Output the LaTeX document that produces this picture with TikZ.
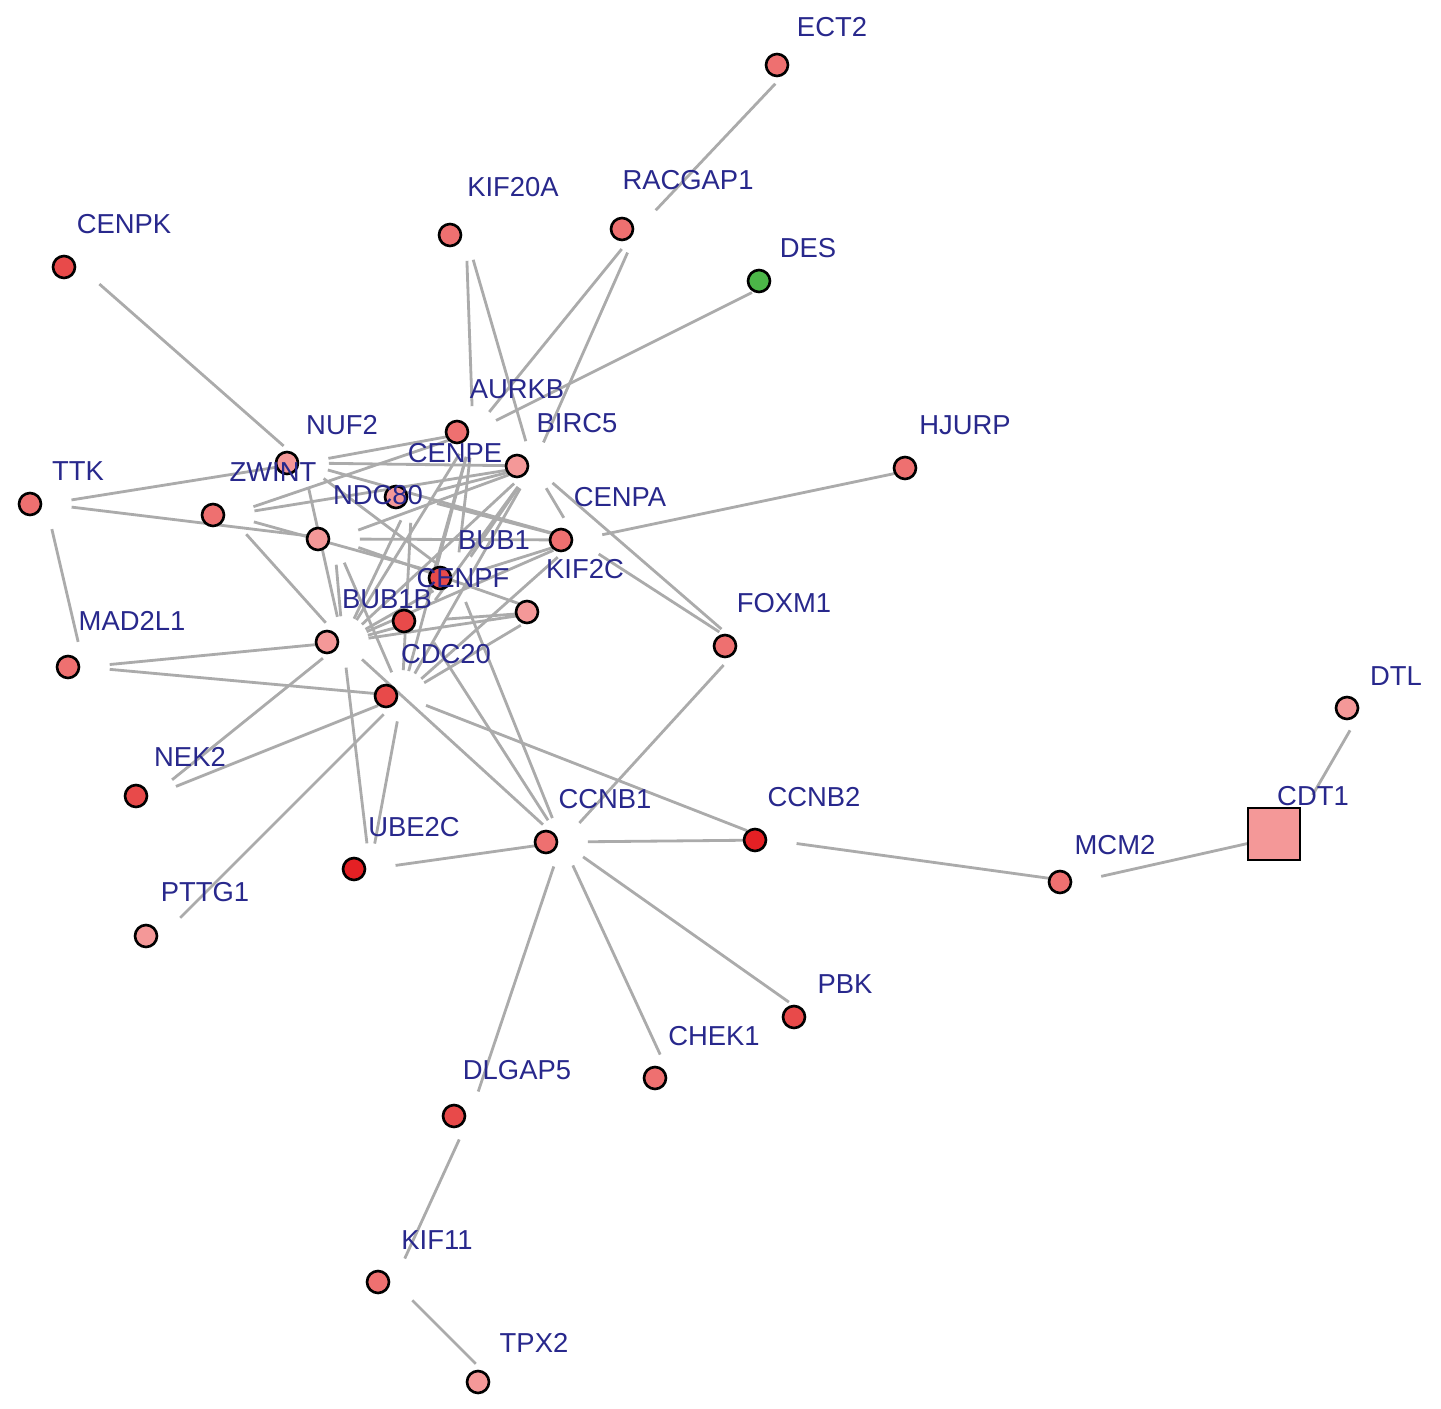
\documentclass[tikz,border=0pt]{standalone}
\usepackage{fontspec}
\setmainfont{Liberation Sans}
\usetikzlibrary{backgrounds}

\definecolor{labelblue}{RGB}{40,40,140}
\definecolor{upA}{RGB}{228,32,36}
\definecolor{upB}{RGB}{232,74,74}
\definecolor{upC}{RGB}{238,112,112}
\definecolor{upD}{RGB}{244,152,152}
\definecolor{downA}{RGB}{76,182,72}

\tikzset{
  gene/.style={circle, draw=black, line width=1.5pt, minimum size=0.44cm, inner sep=0pt},
  hubgene/.style={rectangle, draw=black, line width=1.5pt, minimum size=1.04cm, inner sep=0pt},
  genelabel/.style={text=labelblue, inner sep=0pt, font=\fontsize{15.6}{18}\selectfont},
  link/.style={draw=gray!66, line width=1.6pt, transform canvas={xshift=0.32cm},
    shorten <=0.27cm, shorten >=0.27cm}
}

\begin{document}
\begin{tikzpicture}[x=0.02cm, y=-0.02cm]
  \useasboundingbox (0,0) rectangle (1441,1409);

  % genes
  \node[gene, fill=upC] (ect2) at (777,65) {};
  \node[gene, fill=upC] (racgap1) at (622,229) {};
  \node[gene, fill=upC] (kif20a) at (450,235) {};
  \node[gene, fill=upB] (cenpk) at (64,267) {};
  \node[gene, fill=downA] (des) at (759,281) {};
  \node[gene, fill=upC] (aurkb) at (457,432) {};
  \node[gene, fill=upD] (birc5) at (517,466) {};
  \node[gene, fill=upD] (nuf2) at (287,463) {};
  \node[gene, fill=upD] (cenpe) at (396,497) {};
  \node[gene, fill=upC] (cenpa) at (561,540) {};
  \node[gene, fill=upD] (ndc80) at (318,539) {};
  \node[gene, fill=upC] (zwint) at (213,515) {};
  \node[gene, fill=upC] (ttk) at (30,504) {};
  \node[gene, fill=upB] (bub1) at (440,578) {};
  \node[gene, fill=upD] (kif2c) at (527,612) {};
  \node[gene, fill=upB] (cenpf) at (404,621) {};
  \node[gene, fill=upD] (bub1b) at (327,642) {};
  \node[gene, fill=upB] (cdc20) at (386,696) {};
  \node[gene, fill=upC] (mad2l1) at (68,667) {};
  \node[gene, fill=upB] (nek2) at (136,796) {};
  \node[gene, fill=upD] (pttg1) at (146,936) {};
  \node[gene, fill=upA] (ube2c) at (354,869) {};
  \node[gene, fill=upC] (ccnb1) at (546,842) {};
  \node[gene, fill=upA] (ccnb2) at (755,840) {};
  \node[gene, fill=upC] (foxm1) at (725,646) {};
  \node[gene, fill=upC] (hjurp) at (905,468) {};
  \node[gene, fill=upC] (mcm2) at (1060,882) {};
  \node[hubgene, fill=upD] (cdt1) at (1274,834) {};
  \node[gene, fill=upD] (dtl) at (1347,708) {};
  \node[gene, fill=upB] (pbk) at (794,1017) {};
  \node[gene, fill=upC] (chek1) at (655,1078) {};
  \node[gene, fill=upB] (dlgap5) at (454,1116) {};
  \node[gene, fill=upC] (kif11) at (378,1282) {};
  \node[gene, fill=upD] (tpx2) at (478,1382) {};

  % interactions
  \begin{scope}[on background layer]
    \draw[link] (ect2) -- (racgap1);
    \draw[link] (racgap1) -- (aurkb);
    \draw[link] (racgap1) -- (birc5);
    \draw[link] (kif20a) -- (aurkb);
    \draw[link] (kif20a) -- (birc5);
    \draw[link] (des) -- (aurkb);
    \draw[link] (cenpk) -- (nuf2);
    \draw[link] (ttk) -- (nuf2);
    \draw[link] (ttk) -- (ndc80);
    \draw[link] (ttk) -- (mad2l1);
    \draw[link] (mad2l1) -- (bub1b);
    \draw[link] (mad2l1) -- (cdc20);
    \draw[link] (nek2) -- (bub1b);
    \draw[link] (nek2) -- (cdc20);
    \draw[link] (pttg1) -- (cdc20);
    \draw[link] (ube2c) -- (bub1b);
    \draw[link] (ube2c) -- (cdc20);
    \draw[link] (ube2c) -- (ccnb1);
    \draw[link] (ccnb1) -- (ccnb2);
    \draw[link] (ccnb1) -- (dlgap5);
    \draw[link] (ccnb1) -- (chek1);
    \draw[link] (ccnb1) -- (pbk);
    \draw[link] (foxm1) -- (ccnb1);
    \draw[link] (foxm1) -- (birc5);
    \draw[link] (foxm1) -- (cenpa);
    \draw[link] (ccnb1) -- (bub1b);
    \draw[link] (ccnb1) -- (bub1);
    \draw[link] (ccnb1) -- (cenpf);
    \draw[link] (cdc20) -- (ccnb2);
    \draw[link] (ccnb2) -- (mcm2);
    \draw[link] (mcm2) -- (cdt1);
    \draw[link] (cdt1) -- (dtl);
    \draw[link] (hjurp) -- (cenpa);
    \draw[link] (dlgap5) -- (kif11);
    \draw[link] (kif11) -- (tpx2);
    \draw[link] (nuf2) -- (aurkb);
    \draw[link] (nuf2) -- (birc5);
    \draw[link] (nuf2) -- (cenpa);
    \draw[link] (nuf2) -- (bub1);
    \draw[link] (nuf2) -- (bub1b);
    \draw[link] (zwint) -- (aurkb);
    \draw[link] (zwint) -- (birc5);
    \draw[link] (zwint) -- (bub1);
    \draw[link] (zwint) -- (bub1b);
    \draw[link] (ndc80) -- (birc5);
    \draw[link] (ndc80) -- (cenpa);
    \draw[link] (ndc80) -- (kif2c);
    \draw[link] (ndc80) -- (bub1b);
    \draw[link] (ndc80) -- (cdc20);
    \draw[link] (cenpe) -- (birc5);
    \draw[link] (cenpe) -- (cenpa);
    \draw[link] (cenpe) -- (bub1b);
    \draw[link] (cenpe) -- (cdc20);
    \draw[link] (aurkb) -- (bub1);
    \draw[link] (aurkb) -- (cenpf);
    \draw[link] (aurkb) -- (bub1b);
    \draw[link] (aurkb) -- (cdc20);
    \draw[link] (birc5) -- (cenpa);
    \draw[link] (birc5) -- (bub1);
    \draw[link] (birc5) -- (cenpf);
    \draw[link] (birc5) -- (bub1b);
    \draw[link] (birc5) -- (cdc20);
    \draw[link] (cenpa) -- (bub1);
    \draw[link] (cenpa) -- (bub1b);
    \draw[link] (cenpa) -- (cdc20);
    \draw[link] (kif2c) -- (bub1b);
    \draw[link] (kif2c) -- (cdc20);
    \draw[link] (cenpf) -- (kif2c);
    \draw[link] (bub1) -- (bub1b);
    \draw[link] (cenpf) -- (bub1b);
  \end{scope}

  % names
  \node[genelabel] (ect2-t) at (832,27) {ECT2};
  \node[genelabel] (racgap1-t) at (688,180) {RACGAP1};
  \node[genelabel] (kif20a-t) at (513,187) {KIF20A};
  \node[genelabel] (cenpk-t) at (124,224) {CENPK};
  \node[genelabel] (des-t) at (808,248) {DES};
  \node[genelabel] (aurkb-t) at (517,389) {AURKB};
  \node[genelabel] (birc5-t) at (577,423) {BIRC5};
  \node[genelabel] (nuf2-t) at (342,425) {NUF2};
  \node[genelabel] (cenpe-t) at (455,453) {CENPE};
  \node[genelabel] (cenpa-t) at (620,497) {CENPA};
  \node[genelabel] (ndc80-t) at (378,495) {NDC80};
  \node[genelabel] (zwint-t) at (273,472) {ZWINT};
  \node[genelabel] (ttk-t) at (78,471) {TTK};
  \node[genelabel] (bub1-t) at (494,540) {BUB1};
  \node[genelabel] (kif2c-t) at (585,569) {KIF2C};
  \node[genelabel] (cenpf-t) at (463,578) {CENPF};
  \node[genelabel] (bub1b-t) at (387,599) {BUB1B};
  \node[genelabel] (cdc20-t) at (446,654) {CDC20};
  \node[genelabel] (mad2l1-t) at (132,621) {MAD2L1};
  \node[genelabel] (nek2-t) at (190,757) {NEK2};
  \node[genelabel] (pttg1-t) at (205,892) {PTTG1};
  \node[genelabel] (ube2c-t) at (414,827) {UBE2C};
  \node[genelabel] (ccnb1-t) at (605,799) {CCNB1};
  \node[genelabel] (ccnb2-t) at (814,797) {CCNB2};
  \node[genelabel] (foxm1-t) at (784,603) {FOXM1};
  \node[genelabel] (hjurp-t) at (965,425) {HJURP};
  \node[genelabel] (mcm2-t) at (1115,845) {MCM2};
  \node[genelabel] (cdt1-t) at (1313,796) {CDT1};
  \node[genelabel] (dtl-t) at (1396,676) {DTL};
  \node[genelabel] (pbk-t) at (845,984) {PBK};
  \node[genelabel] (chek1-t) at (714,1036) {CHEK1};
  \node[genelabel] (dlgap5-t) at (517,1070) {DLGAP5};
  \node[genelabel] (kif11-t) at (437,1240) {KIF11};
  \node[genelabel] (tpx2-t) at (534,1343) {TPX2};
\end{tikzpicture}
\end{document}
